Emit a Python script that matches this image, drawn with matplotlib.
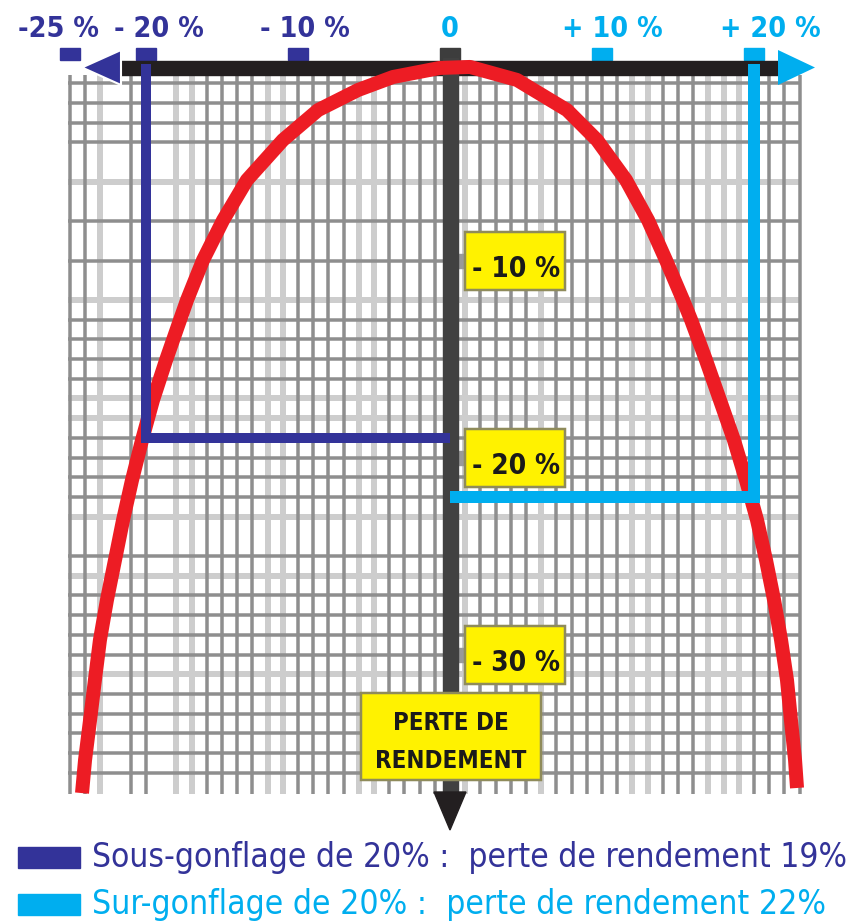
import os
import matplotlib
matplotlib.use('Agg')
import matplotlib.pyplot as plt
from matplotlib.patches import Rectangle, Polygon
from matplotlib import font_manager as fm

# --- data (percent) ---
top_ticks = [-25, -20, -10, 0, 10, 20]
top_labels = ['-25 %', '- 20 %', '- 10 %', '0', '+ 10 %', '+ 20 %']
loss_ticks = [-10, -20, -30]
loss_labels = ['- 10 %', '- 20 %', '- 30 %']
box_title = ['PERTE DE', 'RENDEMENT']

# yield loss (%) vs inflation gap (%)
curve_x = [-24.21, -24.01, -23.68, -23.36, -23.03, -22.57, -22.04, -21.51, -20.92,
           -20.26, -19.54, -18.68, -17.76, -17.30, -16.25, -14.93, -13.36, -10.99,
           -8.68, -6.05, -3.75, -0.66, 1.32, 4.41, 7.70, 9.67, 11.58, 13.03, 14.21,
           15.33, 15.86, 16.84, 17.76, 18.68, 19.47, 20.20, 20.79, 21.32, 21.78,
           22.17, 22.43, 22.70, 22.83]
curve_y = [-37.03, -35.35, -33.32, -31.29, -29.26, -27.23, -25.20, -23.17, -21.14,
           -19.11, -17.08, -15.05, -13.01, -12.00, -9.98, -7.95, -5.91, -3.88,
           -2.36, -1.34, -0.68, -0.22, -0.17, -0.83, -2.36, -3.88, -5.91, -7.95,
           -9.98, -12.00, -13.01, -15.05, -17.08, -19.11, -21.14, -23.17, -25.20,
           -27.23, -29.26, -31.29, -33.32, -35.35, -36.77]

under_x, under_loss = -20, -19
over_x, over_loss = 20, -22

legend_labels = ['Sous-gonflage de 20% :  perte de rendement 19%',
                 'Sur-gonflage de 20% :  perte de rendement 22%']

grid_x = [v for v in range(-25, 24) if v not in (-22, -19, 0)]
grid_x_light = [-23, -18, -17, -12, -11, -6, -5, 1, 6, 12, 13, 17, 18, 19]
grid_y = [-1, -2, -3, -4, -6, -8, -10] + list(range(-12, -24, -1)) + list(range(-25, -37, -1))
grid_y_light = [-6, -12, -17, -18, -23, -26, -31]

NAVY = '#333399'
CYAN = '#00aeef'
RED = '#ed1c24'
YELLOW = '#fff200'

# pixel <-> percent mapping of the picture
W, H = 868, 922
SX, SY, X0, Y0 = 15.2, 19.7, 450, 63.6
X = lambda p: (p - X0) / SX
Y = lambda p: (Y0 - p) / SY
dx = lambda p: p / SX
dy = lambda p: p / SY
PT = 0.72


def find_cond(bold):
    for f in fm.fontManager.ttflist:
        base = os.path.basename(f.fname).lower()
        key = f.name.lower() + ' ' + base
        cond = ('narrow' in key or 'condensed' in key or
                f.stretch in ('condensed', 'semi-condensed', 'extra-condensed'))
        if not cond or 'italic' in key or 'oblique' in key or f.style != 'normal':
            continue
        w = f.weight if isinstance(f.weight, int) else (700 if 'bold' in str(f.weight) else 400)
        isbold = 'bold' in base or w >= 600
        if isbold == bold and 'light' not in base and 'thin' not in base:
            return f.fname
    return None


def font(bold):
    fn = find_cond(bold)
    if fn:
        return dict(fontproperties=fm.FontProperties(fname=fn))
    return dict(family='DejaVu Sans', fontweight='bold' if bold else 'normal')


BOLD = font(True)
REG = font(False)

fig = plt.figure(figsize=(W / 100, H / 100), dpi=100)
ax = fig.add_axes([0, 0, 1, 1])
ax.set_xlim(X(0), X(W))
ax.set_ylim(Y(H), Y(0))
ax.axis('off')

# graph paper
for gx in grid_x:
    light = gx in grid_x_light
    ax.plot([gx, gx], [Y(75), Y(794)], color='#cdcdcd' if light else '#8e8e8e',
            lw=(6 if light else 3.5) * PT, solid_capstyle='butt', zorder=1 if light else 2)
for gy in grid_y:
    light = gy in grid_y_light
    ax.plot([X(68), X(801)], [gy, gy], color='#cdcdcd' if light else '#8e8e8e',
            lw=(6 if light else 3.5) * PT, solid_capstyle='butt', zorder=1 if light else 2)

# top tick marks
for t in top_ticks:
    c = NAVY if t < 0 else ('#3d3d3d' if t == 0 else CYAN)
    ax.add_patch(Rectangle((t - dx(10), Y(60)), dx(20), dy(12), color=c, zorder=3))

# horizontal bar with arrows
ax.add_patch(Rectangle((X(118), Y(75)), X(787) - X(118), dy(14), color='#231f20', zorder=3))
ax.add_patch(Polygon([(X(121), Y(50)), (X(121), Y(85)), (X(82), Y(67.5))],
                     closed=True, fc=NAVY, ec='white', lw=1.5, zorder=3.5))
ax.add_patch(Polygon([(X(778), Y(50)), (X(778), Y(85)), (X(815), Y(67.5))],
                     closed=True, fc=CYAN, ec='none', zorder=3.5))

# vertical axis with arrow
ax.add_patch(Rectangle((X(443), Y(794)), dx(15), dy(794 - 58), color='#414141', zorder=3))
ax.add_patch(Polygon([(X(434), Y(792)), (X(466), Y(792)), (X(450), Y(830))],
                     closed=True, color='#231f20', zorder=3))
for v in loss_ticks:
    ax.add_patch(Rectangle((X(458), v - dy(7)), dx(6), dy(14), color='#9a9a9a', zorder=2.5))

# loss curve
ax.plot(curve_x, curve_y, color=RED, lw=14 * PT, solid_capstyle='butt',
        solid_joinstyle='round', zorder=4)

# guides
ax.plot([under_x, under_x, 0], [0, under_loss, under_loss], color=NAVY, lw=10 * PT,
        solid_joinstyle='miter', solid_capstyle='butt', zorder=5)
ax.plot([over_x, over_x, 0], [0, over_loss, over_loss], color=CYAN, lw=12 * PT,
        solid_joinstyle='miter', solid_capstyle='butt', zorder=5)

renderer = fig.canvas.get_renderer()


def fit(txt, width_px):
    w = txt.get_window_extent(renderer).width
    txt.set_fontsize(txt.get_fontsize() * width_px / w)
    return txt.get_fontsize()


# top labels
shift_px = [-12, 13, 7, 0, 10, 16]
tops = []
for t, lab, s in zip(top_ticks, top_labels, shift_px):
    c = NAVY if t < 0 else CYAN
    tops.append(ax.text(t + dx(s), Y(37), lab, ha='center', va='baseline', color=c,
                        zorder=6, **BOLD))
fs = fit(tops[1], 90)
for tx in tops:
    tx.set_fontsize(fs)

# yellow loss boxes
boxes = []
for v, lab in zip(loss_ticks, loss_labels):
    ax.add_patch(Rectangle((X(465), v - dy(29)), dx(100), dy(58), fc=YELLOW,
                           ec='#8f8b5a', lw=2.5 * PT, zorder=6))
    boxes.append(ax.text(X(516), v - dy(16), lab, ha='center', va='baseline',
                         color='#1a1a1a', zorder=7, **BOLD))
fs = fit(boxes[0], 88)
for tx in boxes:
    tx.set_fontsize(fs)

# title box
ax.add_patch(Rectangle((X(361), Y(780)), dx(180), dy(87), fc=YELLOW,
                       ec='#8f8b5a', lw=2.5 * PT, zorder=6))
t1 = ax.text(X(451), Y(730), box_title[0], ha='center', va='baseline', color='#1a1a1a',
             zorder=7, **BOLD)
t2 = ax.text(X(451), Y(768), box_title[1], ha='center', va='baseline', color='#1a1a1a',
             zorder=7, **BOLD)
fs = fit(t2, 150)
t1.set_fontsize(fs)

# legend
for i, (lab, c, w) in enumerate(zip(legend_labels, [NAVY, CYAN], [758, 736])):
    top = 847 + 47 * i
    ax.add_patch(Rectangle((X(18), Y(top + 21)), dx(62), dy(21), color=c, zorder=6))
    lt = ax.text(X(92), Y(top + 20), lab, ha='left', va='baseline', color=c,
                 zorder=6, **REG)
    fit(lt, w)

fig.savefig('out.png', dpi=100)
